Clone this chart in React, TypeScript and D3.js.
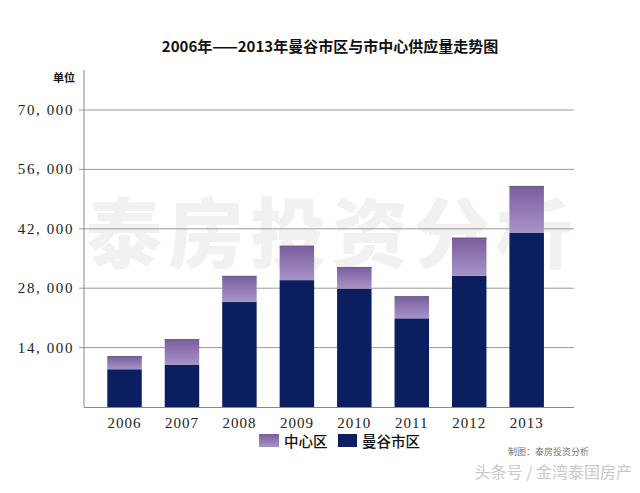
import React from "react";
import * as d3 from "d3";

const years = ["2006", "2007", "2008", "2009", "2010", "2011", "2012", "2013"];
const bangkokCity = [8900, 9900, 24800, 29900, 27900, 20900, 30900, 41100];
const centralArea = [3100, 6100, 6100, 8100, 5100, 5200, 9000, 11000];
const yTicks = [14000, 28000, 42000, 56000, 70000];
const seriesNames = ["中心区", "曼谷市区"];

const W = 640;
const H = 493;

export default function App() {
  const x = d3.scaleBand<string>().domain(years).range([95.8, 555.4]).paddingInner(0.4).paddingOuter(0.2);
  const y = d3.scaleLinear().domain([0, 70000]).range([407, 110]);
  const fmt = (v: number) => d3.format(",")(v);
  const navy = "#0b1f60";
  const serif = "'Liberation Serif', 'DejaVu Serif', serif";
  const cjk = "'Noto Sans CJK SC', sans-serif";

  return (
    <svg width={W} height={H} style={{ position: "absolute", left: 0, top: 0, background: "#fff" }}>
      <defs>
        <linearGradient id="pg" x1="0" y1="0" x2="0" y2="1">
          <stop offset="0%" stopColor="#7a5d9d" />
          <stop offset="100%" stopColor="#a893c8" />
        </linearGradient>
      </defs>
      <rect width={W} height={H} fill="#fff" />
      <text x={330} y={52} textAnchor="middle" fontFamily={cjk} fontWeight={700} fontSize={15} fill="#111">
        2006年——2013年曼谷市区与市中心供应量走势图
      </text>
      <text x={64} y={82} textAnchor="middle" fontFamily={cjk} fontWeight={700} fontSize={11} fill="#111">单位</text>

      {/* watermark (behind marks) */}
      <text x={332} y={262} textAnchor="middle" fontFamily={cjk} fontWeight={900} fontSize={76} letterSpacing={6} fill="#f1f1f1">
        泰房投资分析
      </text>

      {/* gridlines */}
      {yTicks.map((t) => (
        <g key={t}>
          <line x1={79} x2={574} y1={y(t)} y2={y(t)} stroke="#9a9a9a" strokeWidth={1} />
          <text x={74} y={y(t) + 5} textAnchor="end" fontFamily={serif} fontSize={15} letterSpacing={1.6} fill="#222">
            {fmt(t).replace(",", ", ")}
          </text>
        </g>
      ))}

      {/* bars */}
      {years.map((yr, i) => {
        const b = bangkokCity[i];
        const c = centralArea[i];
        const bx = x(yr)!;
        const bw = x.bandwidth();
        return (
          <g key={yr}>
            <rect x={bx} y={y(b)} width={bw} height={y(0) - y(b)} fill={navy} />
            <rect x={bx} y={y(b + c)} width={bw} height={y(b) - y(b + c)} fill="url(#pg)" />
            <line x1={bx} x2={bx + bw} y1={y(b + c) + 0.5} y2={y(b + c) + 0.5} stroke="#6f5a8c" strokeWidth={1} />
            <text x={bx + bw / 2} y={428} textAnchor="middle" fontFamily={serif} fontSize={15} letterSpacing={1} fill="#222">
              {yr}
            </text>
          </g>
        );
      })}

      {/* axes */}
      <line x1={84} x2={84} y1={70} y2={407} stroke="#888" strokeWidth={1} />
      <line x1={84} x2={574} y1={407.5} y2={407.5} stroke="#888" strokeWidth={1} />

      {/* legend */}
      <rect x={259} y={434} width={20} height={13} fill="url(#pg)" />
      <text x={284} y={447} fontFamily={cjk} fontWeight={500} fontSize={14.5} fill="#111">{seriesNames[0]}</text>
      <rect x={338} y={434} width={19} height={13} fill={navy} />
      <text x={362} y={447} fontFamily={cjk} fontWeight={500} fontSize={14.5} fill="#111">{seriesNames[1]}</text>

      {/* footer */}
      <text x={508} y={455} fontFamily={cjk} fontSize={9} fill="#777">制图：泰房投资分析</text>
      <text x={632} y={478} textAnchor="end" fontFamily={cjk} fontSize={16} fill="#c8c8c8">头条号 / 金湾泰国房产</text>
    </svg>
  );
}
